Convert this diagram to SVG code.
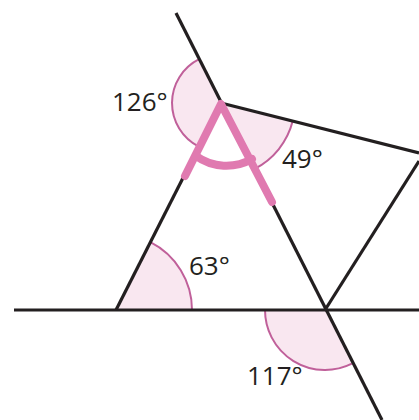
<svg xmlns="http://www.w3.org/2000/svg" width="419" height="420" viewBox="0 0 419 420">
<style>
.sec{fill:#f9e7f0;stroke:none}
.arc{fill:none;stroke:#c0609a;stroke-width:2}
.ln{stroke:#231f20;stroke-width:3.2;fill:none}
.cmp{stroke:#e07ab0;stroke-width:8;fill:none;stroke-linecap:round;stroke-linejoin:round}
.lbl{font-family:"Open Sans","Noto Sans",sans-serif;font-size:26px;fill:#231f20}
</style>
<rect width="419" height="420" fill="#ffffff"/>
<g id="angle-marks">
<path class="sec" d="M116,310 L192,310 A76,76 0 0 0 150.4,242.2 Z"/>
<path class="arc" d="M192,310 A76,76 0 0 0 150.4,242.2"/>
<path class="sec" d="M325,310 L265,310 A60,60 0 0 0 351.9,363.6 Z"/>
<path class="arc" d="M265,310 A60,60 0 0 0 351.9,363.6"/>
<path class="sec" d="M221,103 L199.1,59.2 A49,49 0 0 0 198.8,146.7 Z"/>
<path class="arc" d="M199.1,59.2 A49,49 0 0 0 198.8,146.7"/>
<path class="sec" d="M221,103 L292.7,121.1 A74,74 0 0 1 254.2,169.1 Z"/>
<path class="arc" d="M292.7,121.1 A74,74 0 0 1 254.2,169.1"/>
</g>
<g id="lines">
<line class="ln" x1="14" y1="310" x2="419" y2="310"/>
<line class="ln" x1="176" y1="13" x2="382" y2="420"/>
<line class="ln" x1="116" y1="310" x2="221" y2="103"/>
<line class="ln" x1="221" y1="103" x2="419" y2="153"/>
<line class="ln" x1="325" y1="310" x2="419" y2="161"/>
</g>
<g id="compass">
<path class="cmp" d="M185,176 L221,104 L272,202"/>
<path class="cmp" d="M196,156 A52,52 0 0 0 252,159"/>
</g>
<g id="labels">
<text class="lbl" x="112" y="111">126°</text>
<text class="lbl" x="282" y="168">49°</text>
<text class="lbl" x="189" y="275">63°</text>
<text class="lbl" x="247" y="385">117°</text>
</g>
</svg>
